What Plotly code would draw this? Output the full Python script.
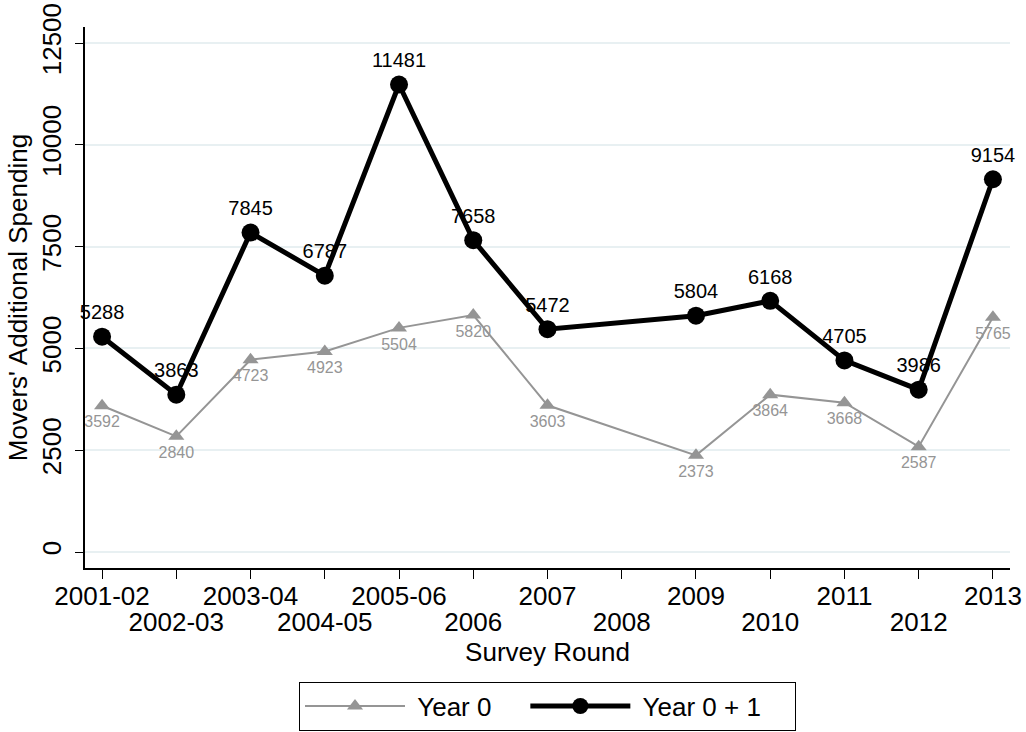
import plotly.graph_objects as go

categories = ["2001-02", "2002-03", "2003-04", "2004-05", "2005-06", "2006",
              "2007", "2008", "2009", "2010", "2011", "2012", "2013"]
rounds_with_data = ["2001-02", "2002-03", "2003-04", "2004-05", "2005-06", "2006",
                    "2007", "2009", "2010", "2011", "2012", "2013"]
year0 = [3592, 2840, 4723, 4923, 5504, 5820, 3603, 2373, 3864, 3668, 2587, 5765]
year01 = [5288, 3863, 7845, 6787, 11481, 7658, 5472, 5804, 6168, 4705, 3986, 9154]
y_ticks = [0, 2500, 5000, 7500, 10000, 12500]

FONT = "Liberation Sans, Arial, sans-serif"
GREY = "#959595"
FS = 26
NB = "\u00a0"

upper_row = categories[0::2]
lower_row = categories[1::2]

fig = go.Figure()
fig.add_trace(go.Scatter(
    x=rounds_with_data, y=year0, name=NB + "Year 0" + NB * 4,
    xaxis="x2",
    mode="lines+markers+text",
    line=dict(color=GREY, width=2),
    marker=dict(symbol="triangle-up", size=14, color=GREY),
    text=[str(v) for v in year0], textposition="bottom center",
    textfont=dict(size=16, color=GREY, family=FONT),
    cliponaxis=False,
))
fig.add_trace(go.Scatter(
    x=rounds_with_data, y=year01, name=NB + "Year 0 + 1" + NB * 4,
    mode="lines+markers+text",
    line=dict(color="black", width=5),
    marker=dict(symbol="circle", size=18, color="black"),
    text=[str(v) for v in year01], textposition="top center",
    textfont=dict(size=20, color="black", family=FONT),
    cliponaxis=False,
))

fig.update_layout(
    width=1026, height=732,
    margin=dict(l=85, r=16, t=27, b=164, autoexpand=False),
    paper_bgcolor="white", plot_bgcolor="white",
    font=dict(family=FONT, size=FS, color="black"),
    showlegend=True,
    legend=dict(
        orientation="h", x=0.5, xanchor="center", y=-0.21, yanchor="top",
        bordercolor="black", borderwidth=1, itemwidth=100,
        font=dict(size=FS, color="black"),
    ),
    xaxis=dict(
        type="category", categoryorder="array", categoryarray=categories,
        range=[-0.23, 12.23], automargin=False,
        tickmode="array", tickvals=categories,
        ticktext=[c if c in upper_row else "" for c in categories], tickangle=0,
        ticklabelstandoff=-5, ticklabeloverflow="allow",
        showline=True, linecolor="black", linewidth=1.5,
        ticks="outside", ticklen=9, tickcolor="black",
        showgrid=False, zeroline=False,
        tickfont=dict(size=FS),
    ),
    xaxis2=dict(
        type="category", categoryorder="array", categoryarray=categories,
        range=[-0.23, 12.23], automargin=False,
        overlaying="x", side="bottom", anchor="y",
        tickmode="array", tickvals=lower_row, ticktext=lower_row, tickangle=0,
        ticklabelstandoff=36, ticklabeloverflow="allow",
        showline=False, ticks="", showgrid=False, zeroline=False,
        tickfont=dict(size=FS),
        title=dict(text="Survey Round", font=dict(size=FS), standoff=0),
    ),
    yaxis=dict(
        range=[-393, 12893], automargin=False,
        tickmode="array", tickvals=y_ticks, ticktext=[str(v) for v in y_ticks],
        tickangle=-90, ticklabelstandoff=4, ticklabeloverflow="allow",
        showline=True, linecolor="black", linewidth=1.5,
        ticks="outside", ticklen=8, tickcolor="black",
        showgrid=True, gridcolor="#e8f0f2", gridwidth=1.5,
        zeroline=False,
        tickfont=dict(size=FS),
        title=dict(text="Movers' Additional Spending", font=dict(size=FS), standoff=2),
    ),
)

# remove the default 8px page margin so the figure fills the window exactly
fig.write_html("out.html", config={"displayModeBar": False},
               post_script="document.body.style.margin='0';")
